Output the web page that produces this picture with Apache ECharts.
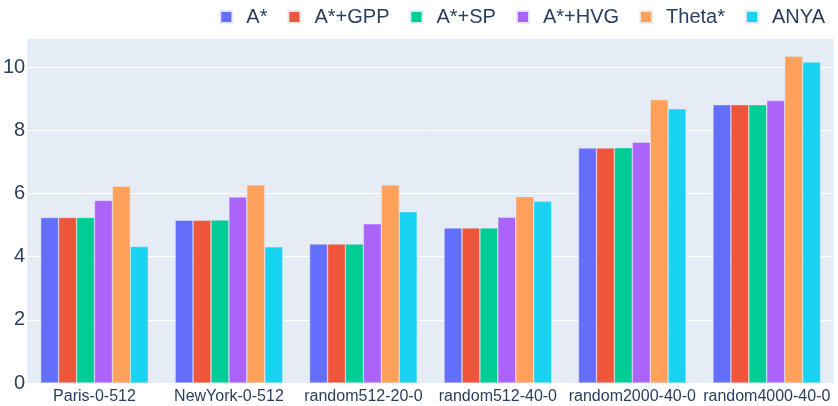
<!DOCTYPE html>
<html><head><meta charset="utf-8">
<script src="https://cdn.jsdelivr.net/npm/echarts@6/dist/echarts.min.js"></script>
<style>html,body{margin:0;padding:0;background:#fff}#c{width:838px;height:406px}</style>
</head><body><div id="c"></div>
<script>
const categories = ['Paris-0-512','NewYork-0-512','random512-20-0','random512-40-0','random2000-40-0','random4000-40-0'];
const seriesNames = ['A*','A*+GPP','A*+SP','A*+HVG','Theta*','ANYA'];
const aStar   = [5.24, 5.15, 4.40, 4.91, 7.44, 8.81];
const aGPP    = [5.24, 5.15, 4.40, 4.91, 7.44, 8.81];
const aSP     = [5.24, 5.16, 4.40, 4.91, 7.45, 8.81];
const aHVG    = [5.78, 5.89, 5.04, 5.25, 7.62, 8.94];
const theta   = [6.23, 6.27, 6.27, 5.90, 8.97, 10.34];
const anya    = [4.32, 4.31, 5.42, 5.75, 8.68, 10.16];
const values = [aStar, aGPP, aSP, aHVG, theta, anya];
const colors = ['#636EFA','#EF553B','#00CC96','#AB63FA','#FFA15A','#19D3F3'];
const font = 'Liberation Sans, Arial, sans-serif';
const chart = echarts.init(document.getElementById('c'), null, {renderer:'canvas'});
chart.setOption({
  animation:false,
  color: colors,
  legend:{
    right:8, top:2, itemWidth:12, itemHeight:12, itemGap:20, icon:'rect',
    textStyle:{fontFamily:font, fontSize:20, color:'#2a3f5f', padding:[0,0,0,9]},
    data: seriesNames
  },
  grid:{left:27, right:4, top:39, bottom:23, containLabel:false,
        show:true, backgroundColor:'#E5ECF6', borderWidth:0},
  xAxis:{type:'category', data:categories,
    axisLine:{show:false}, axisTick:{show:false},
    axisLabel:{fontFamily:font, fontSize:16, color:'#2a3f5f', margin:6, interval:0}},
  yAxis:{type:'value', min:0, max:10.89, interval:2,
    axisLine:{show:false}, axisTick:{show:false},
    axisLabel:{fontFamily:font, fontSize:20, color:'#2a3f5f', margin:2, showMaxLabel:false,
      formatter: v => (Math.abs(v % 2) < 1e-9 ? String(v) : '')},
    splitLine:{show:true, showMinLine:false, showMaxLine:false, lineStyle:{color:'#ffffff', width:1}}},
  series: seriesNames.map((n,i)=>({
    name:n, type:'bar', data:values[i], barGap:'0%', barCategoryGap:'20%',
    itemStyle:{color:colors[i], borderColor:'rgba(229,236,246,0.9)', borderWidth:0.5}
  }))
});
</script></body></html>
